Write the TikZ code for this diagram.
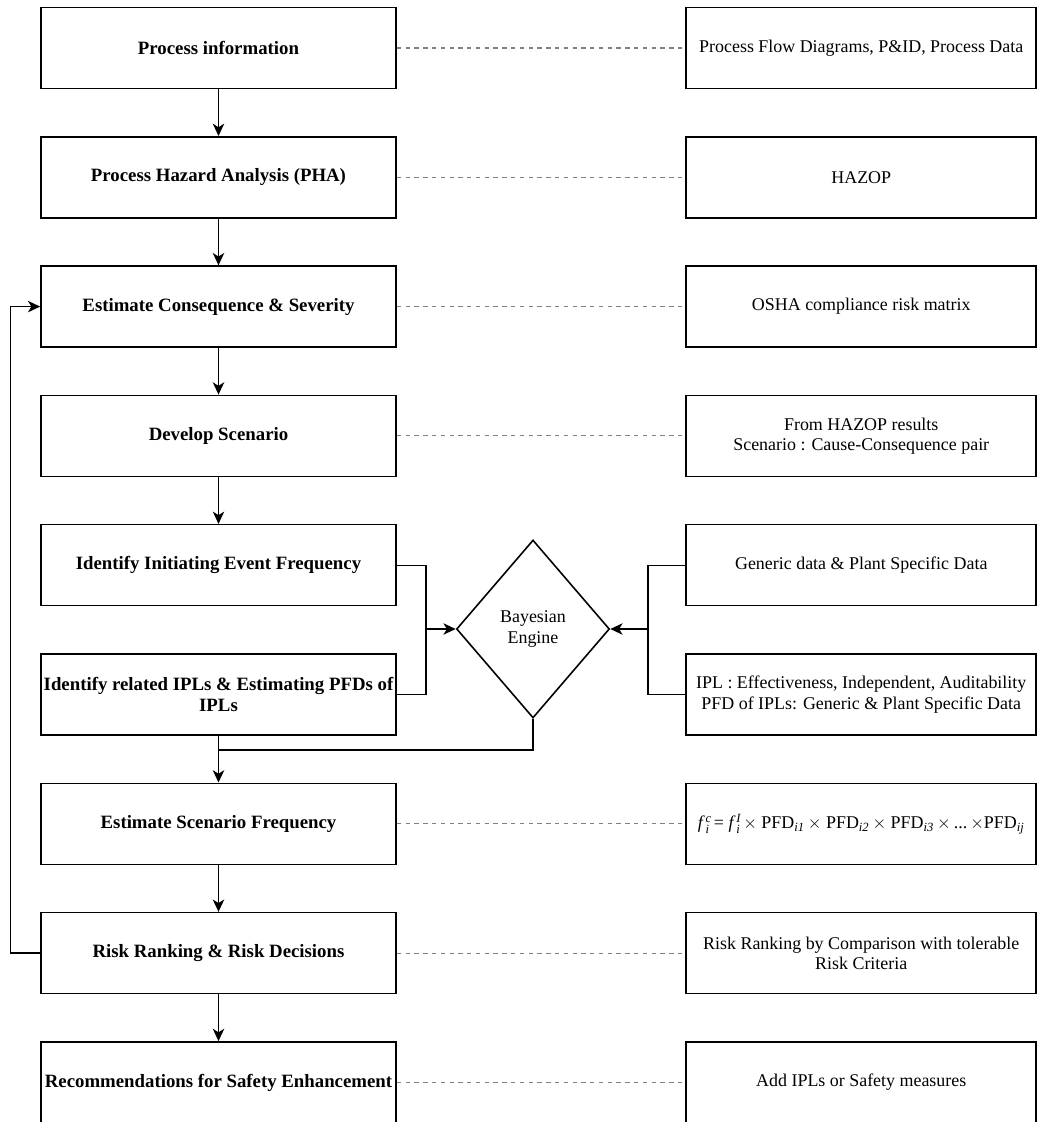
\documentclass[tikz,border=0pt]{standalone}
\usepackage{amsmath,amssymb}
\usepackage{fontspec}
\setmainfont{Liberation Serif}
\usepackage{tikz}
\usetikzlibrary{positioning,arrows.meta,shapes.geometric}
\usepackage{xcolor}

\newcommand{\fsz}{\fontsize{10.2pt}{11.6pt}\selectfont}
\newcommand{\bsz}{\fontsize{10.7pt}{12pt}\selectfont}
\newcommand{\fr}[2]{\textit{f}\kern0.5pt$_{\textit{#1}}^{\textit{#2}}$\kern1pt}

\tikzset{
  stepbox/.style={draw,line width=0.9pt,minimum width=7.1cm,minimum height=1.62cm,inner sep=1pt,align=center,font=\bfseries\bsz},
  infobox/.style={draw,line width=0.9pt,minimum width=7.0cm,minimum height=1.62cm,inner sep=1pt,align=center,font=\fsz},
  link/.style={gray,dash pattern=on 2.5pt off 2.5pt,line width=0.6pt},
}

\begin{document}
\begin{tikzpicture}[>={Stealth[length=7pt,width=6.5pt,inset=2pt]},line width=0.8pt]
\useasboundingbox (0,0) rectangle (20.76,-22.44);
% steps
\node[stepbox] (pinfo) at (4.37,-0.96) {Process information};
\node[stepbox] (pha) at (4.37,-3.546) {Process Hazard Analysis (PHA)};
\node[stepbox] (cons) at (4.37,-6.132) {Estimate Consequence \& Severity};
\node[stepbox] (scen) at (4.37,-8.718) {Develop Scenario};
\node[stepbox] (ief) at (4.37,-11.304) {Identify Initiating Event Frequency};
\node[stepbox] (ipl) at (4.37,-13.89) {Identify related IPLs \& Estimating PFDs of\\IPLs};
\node[stepbox] (sfreq) at (4.37,-16.476) {Estimate Scenario Frequency};
\node[stepbox] (rank) at (4.37,-19.062) {Risk Ranking \& Risk Decisions};
\node[stepbox] (recom) at (4.37,-21.648) {Recommendations for Safety Enhancement};
% notes
\node[infobox] (pinfoR) at (17.225,-0.96) {Process Flow Diagrams, P\&ID, Process Data};
\node[infobox] (phaR) at (17.225,-3.546) {HAZOP};
\node[infobox] (consR) at (17.225,-6.132) {OSHA compliance risk matrix};
\node[infobox] (scenR) at (17.225,-8.718) {From HAZOP results\\Scenario : Cause-Consequence pair};
\node[infobox] (iefR) at (17.225,-11.304) {Generic data \& Plant Specific Data};
\node[infobox] (iplR) at (17.225,-13.89) {IPL : Effectiveness, Independent, Auditability\\PFD of IPLs: Generic \& Plant Specific Data};
\node[infobox] (sfreqR) at (17.225,-16.476) {\fr{i}{c} = \fr{i}{I}$\times$ PFD$_{\textit{i1}}$\,$\times$ PFD$_{\textit{i2}}$\,$\times$ PFD$_{\textit{i3}}$\,$\times$\,...\,$\times$PFD$_{\textit{ij}}$};
\node[infobox] (rankR) at (17.225,-19.062) {Risk Ranking by Comparison with tolerable\\Risk Criteria};
\node[infobox] (recomR) at (17.225,-21.648) {Add IPLs or Safety measures};
% engine
\node[diamond,draw,line width=0.9pt,minimum width=3.06cm,minimum height=3.56cm,inner sep=0pt,align=center,font=\fsz] (bayes) at (10.66,-12.58) {Bayesian\\Engine};
\coordinate (jl) at (8.52,-12.58);
\coordinate (jr) at (12.96,-12.58);
\coordinate (jb) at (4.37,-15.0);

\draw[->] (pinfo) -- (pha);
\draw[->] (pha) -- (cons);
\draw[->] (cons) -- (scen);
\draw[->] (scen) -- (ief);
\draw[->] (ipl) -- (sfreq);
\draw[->] (sfreq) -- (rank);
\draw[->] (rank) -- (recom);

\draw (ief.east) -| (jl) |- (ipl.east);
\draw[->] (jl) -- (bayes.west);
\draw (iefR.west) -| (jr) |- (iplR.west);
\draw[->] (jr) -- (bayes.east);
\draw (bayes.south) |- (jb);
\draw[->] (rank.west) -- ++(-0.6,0) |- (cons.west);

\foreach \s in {pinfo,pha,cons,scen,sfreq,rank,recom}
  \draw[link] (\s) -- (\s R);
\end{tikzpicture}
\end{document}
